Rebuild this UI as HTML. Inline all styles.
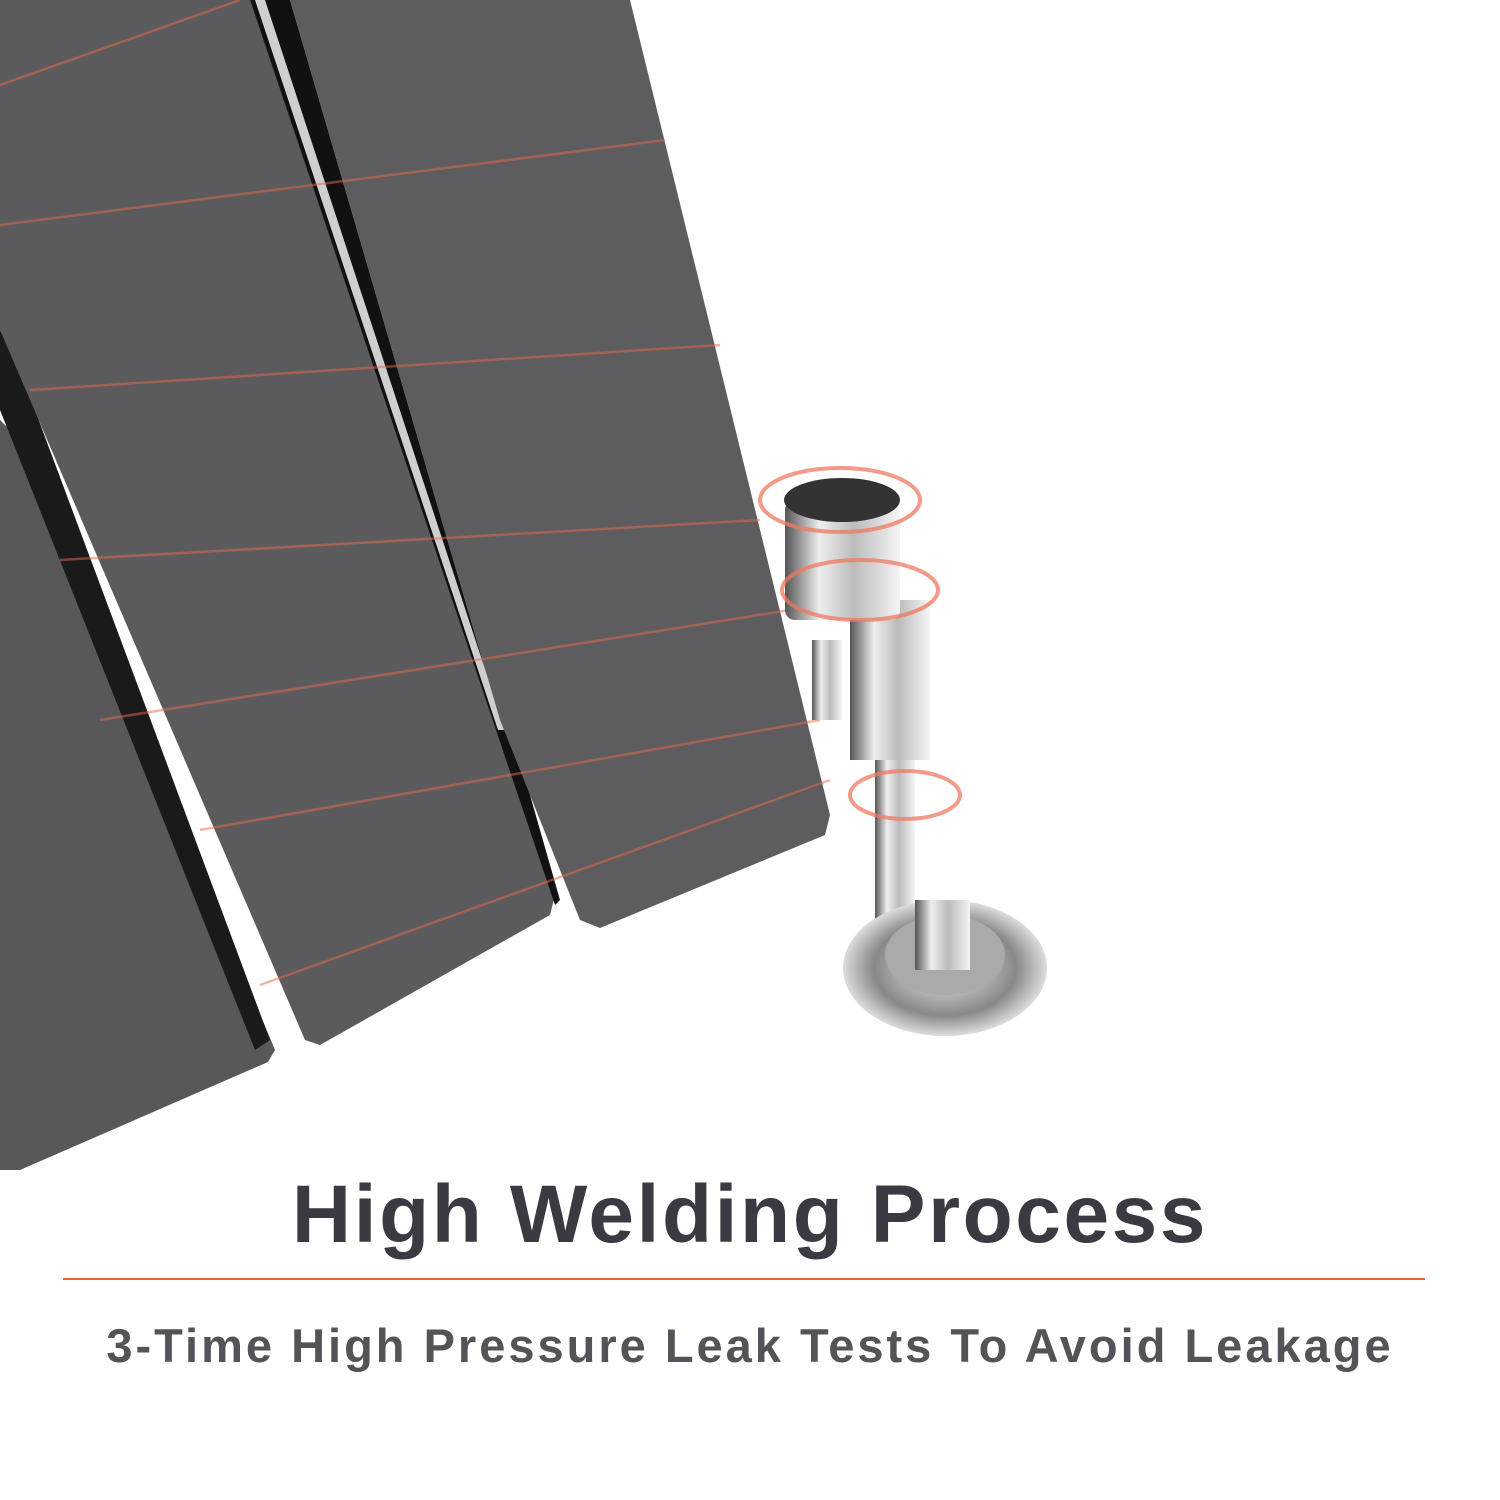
<!DOCTYPE html>
<html><head><meta charset="utf-8"><style>
html,body{margin:0;padding:0;background:#fff;}
body{width:1500px;height:1500px;position:relative;overflow:hidden;font-family:"Liberation Sans",sans-serif;}
svg{position:absolute;left:0;top:0;}
.t1{position:absolute;left:0;width:1500px;top:1168px;text-align:center;font-weight:bold;font-size:82px;color:#3b3a42;letter-spacing:2.6px;}
.line{position:absolute;left:63px;width:1362px;top:1278px;height:2px;background:#e8653f;}
.t2{position:absolute;left:0;width:1500px;top:1318px;text-align:center;font-weight:bold;font-size:47px;color:#545458;letter-spacing:3px;}
</style></head><body>
<svg width="1500" height="1500" viewBox="0 0 1500 1500">
<defs>
<linearGradient id="chrome" x1="0" x2="1">
<stop offset="0" stop-color="#555"/><stop offset="0.3" stop-color="#eee"/><stop offset="0.6" stop-color="#bbb"/><stop offset="1" stop-color="#f5f5f5"/>
</linearGradient>
<radialGradient id="disc"><stop offset="0" stop-color="#eee"/><stop offset="0.7" stop-color="#888"/><stop offset="1" stop-color="#ddd"/></radialGradient>
</defs>
<polygon points="0,420 20,440 275,1050 268,1062 20,1170 0,1170" fill="#58585a"/>
<polygon points="0,330 20,370 270,1040 255,1050 0,410" fill="#1a1a1a"/>
<polygon points="0,0 250,0 555,895 550,915 320,1045 305,1040 0,330" fill="#5b5b5d"/>
<polygon points="250,0 290,0 500,720 520,760 560,900 555,905" fill="#111"/>
<polygon points="255,0 265,0 505,730 498,730" fill="#fff" opacity="0.8"/>
<polygon points="290,0 630,0 830,815 825,835 600,928 580,920 500,720" fill="#5d5d5f"/>
<g stroke="#e86a4c" stroke-width="2.5" opacity="0.5" fill="none">
<line x1="0" y1="85" x2="240" y2="0"/>
<line x1="0" y1="225" x2="665" y2="140"/>
<line x1="30" y1="390" x2="720" y2="345"/>
<line x1="60" y1="560" x2="760" y2="520"/>
<line x1="100" y1="720" x2="790" y2="610"/>
<line x1="200" y1="830" x2="820" y2="720"/>
<line x1="260" y1="985" x2="830" y2="780"/>
</g>
<rect x="812" y="640" width="30" height="80" fill="url(#chrome)"/>
<rect x="850" y="600" width="80" height="160" fill="url(#chrome)"/>
<rect x="875" y="760" width="40" height="170" fill="url(#chrome)"/>
<rect x="785" y="500" width="115" height="120" rx="10" fill="url(#chrome)"/>
<ellipse cx="842" cy="500" rx="58" ry="22" fill="#333"/>
<ellipse cx="945" cy="968" rx="102" ry="68" fill="url(#disc)"/>
<ellipse cx="945" cy="955" rx="60" ry="40" fill="#aaa"/>
<rect x="915" y="900" width="55" height="70" fill="url(#chrome)"/>
<g stroke="#f07860" stroke-width="4" fill="none" opacity="0.75">
<ellipse cx="840" cy="500" rx="80" ry="32"/>
<ellipse cx="860" cy="590" rx="78" ry="30"/>
<ellipse cx="905" cy="795" rx="55" ry="24"/>
</g>
</svg>
<div class="t1">High Welding Process</div>
<div class="line"></div>
<div class="t2">3-Time High Pressure Leak Tests To Avoid Leakage</div>
</body></html>
